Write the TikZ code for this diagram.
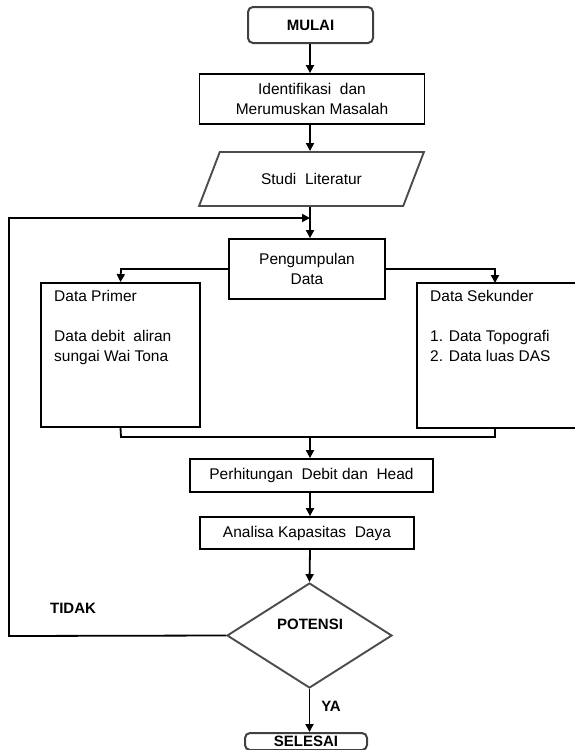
\documentclass[tikz,border=0pt]{standalone}
\usepackage{fontspec}
\setmainfont{Liberation Sans}
\usetikzlibrary{shapes.geometric,arrows.meta}
\begin{document}
\begin{tikzpicture}[x=1pt,y=-1pt,
  every node/.style={font=\fontsize{15.5}{20}\selectfont},
  box/.style={draw=black,line width=1.8pt,rectangle,inner sep=0pt},
  term/.style={draw=black!75,line width=2pt,rectangle,rounded corners=5pt,inner sep=0pt,font=\fontsize{15}{19}\selectfont\bfseries},
  io/.style={draw=black!70,line width=1.9pt,trapezium,trapezium left angle=45,trapezium right angle=135,trapezium stretches=true,inner sep=0pt},
  dec/.style={draw=black!70,line width=1.9pt,diamond,inner sep=0pt},
  lbl/.style={inner sep=0pt,font=\fontsize{15}{19}\selectfont\bfseries},
  txt/.style={inner sep=0pt,align=left,anchor=north west},
  conn/.style={line width=1.8pt,draw=black},
  arr/.style={conn,-{Triangle[length=8pt,width=8pt]}}]
\useasboundingbox (0,0) rectangle (574,750);
\node[term,minimum width=125,minimum height=36] (mulai) at (310.5,25) {MULAI};
\node[box,minimum width=225,minimum height=50,align=center] (ident) at (312,99) {Identifikasi\ \ dan\\Merumuskan Masalah};
\node[io,minimum width=225,minimum height=54] (studi) at (311.5,179) {Studi\ \ Literatur};
\node[box,minimum width=156,minimum height=60,align=center] (peng) at (307,269) {Pengumpulan\\Data};
\node[box,minimum width=159,minimum height=144] (primer) at (120.5,355) {};
\node[box,minimum width=170,minimum height=145] (sekunder) at (502,355.5) {};
\node[txt] (primt) at (54,290) {Data Primer};
\node[txt] (primd) at (54,330) {Data debit\ \ aliran\\sungai Wai Tona};
\node[txt] (sekt) at (430,290) {Data Sekunder};
\node[txt] (sekd) at (430,330) {1. Data Topografi\\2. Data luas DAS};
\node[box,minimum width=243,minimum height=33] (hit) at (311.5,475.5) {Perhitungan\ \ Debit dan\ \ Head};
\node[box,minimum width=214,minimum height=32] (anal) at (307,533) {Analisa Kapasitas\ \ Daya};
\node[dec,minimum width=165,minimum height=105] (pot) at (309.5,635.5) {};
\node[lbl] (potl) at (310,624) {POTENSI};
\node[term,minimum width=122,minimum height=17] (selesai) at (306,741.5) {SELESAI};
\node[lbl] (tidak) at (73,608) {TIDAK};
\node[lbl] (ya) at (331,706) {YA};
\coordinate (join) at (310,218);
\coordinate (fb1) at (9,636);
\coordinate (fb2) at (9,218);
\coordinate (pl) at (121,269);
\coordinate (pr) at (495,269);
\coordinate (sektop) at (495,283);
\coordinate (sekbot) at (495,428);
\coordinate (ml) at (121,437);
\coordinate (mr) at (495,437);
\coordinate (mc) at (310,437);
\draw[arr] (mulai.south -| 310,0) -- (ident.north -| 310,0);
\draw[arr] (ident.south -| 310,0) -- (studi.north -| 310,0);
\draw[arr] (studi.south -| 310,0) -- (peng.north -| 310,0);
\draw[arr] (pot.west) -- (fb1) -- (fb2) -- (join);
\draw[arr] (peng.west) -- (pl) -- (primer.north);
\draw[arr] (peng.east) -- (pr) -- (sektop);
\draw[conn] (primer.south) -- (ml) -- (mr) -- (sekbot);
\draw[arr] (mc) -- (hit.north -| mc);
\draw[arr] (hit.south -| 310,0) -- (anal.north -| 310,0);
\draw[arr] (anal.south -| 310,0) -- (pot.north);
\draw[arr] (pot.south) -- (selesai.north -| pot.south);
\end{tikzpicture}
\end{document}
